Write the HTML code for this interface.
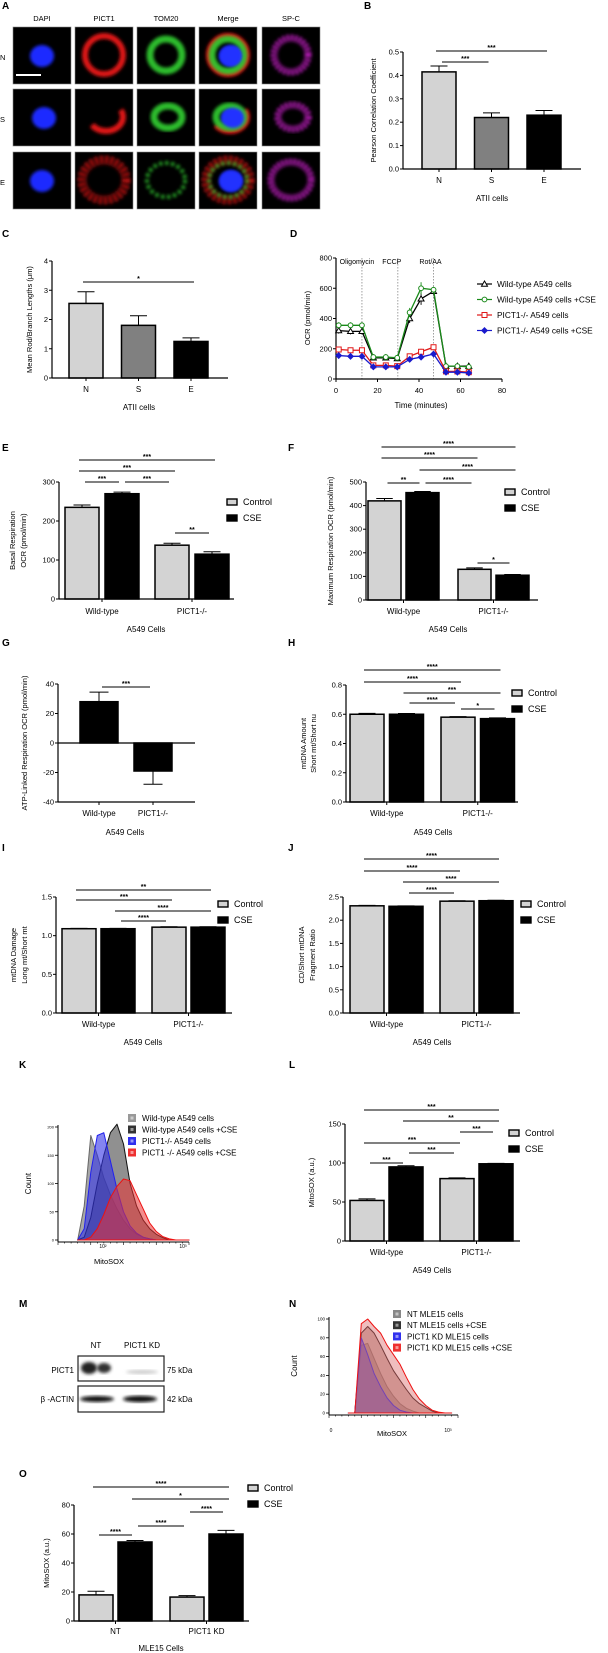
<!DOCTYPE html>
<html><head><meta charset="utf-8"><style>
html,body{margin:0;padding:0;background:#fff;}
svg{display:block;font-family:"Liberation Sans",Arial,sans-serif;}
</style></head><body>
<svg id="fig" width="608" height="1653" viewBox="0 0 608 1653" xmlns="http://www.w3.org/2000/svg">
<defs>
<filter id="blur1" x="-20%" y="-20%" width="140%" height="140%"><feGaussianBlur stdDeviation="1.6"/></filter>
<filter id="blur2" x="-20%" y="-20%" width="140%" height="140%"><feGaussianBlur stdDeviation="2.5"/></filter>
</defs>
</svg>
<script>
// ---------- DATA ----------
const bCats = ['N','S','E'];
const bVals = [0.415,0.22,0.23];
const bErr = [0.025,0.02,0.02];
const bTicks = [0,0.1,0.2,0.3,0.4,0.5];
const bTickLabels = ['0.0','0.1','0.2','0.3','0.4','0.5'];
const cVals = [2.55,1.8,1.25];
const cErr = [0.4,0.33,0.12];
const cTicks = [0,1,2,3,4];
const dTime = [1.3,7,12.5,18,24,29.5,35.5,41,47,53,58.5,64];
const dWT = [320,315,315,140,140,135,400,530,580,85,85,85];
const dWTErr = [20,20,20,10,10,10,30,40,20,5,5,5];
const dWTCSE = [355,355,355,145,145,140,440,600,590,85,85,80];
const dKO = [195,190,190,90,90,85,150,180,210,50,50,45];
const dKOCSE = [155,150,150,80,80,80,130,145,165,45,45,40];
const dXTicks = [0,20,40,60,80];
const dYTicks = [0,200,400,600,800];
const dInject = [12.5,29.8,47];
const a549Groups = ['Wild-type','PICT1-/-'];
const eVals = [235,270,138,115];
const eErr = [6,4,5,6];
const eTicks = [0,100,200,300];
const fVals = [420,455,130,105];
const fErr = [10,5,6,3];
const fTicks = [0,100,200,300,400,500];
const gVals = [28,-19];
const gErr = [6.5,9];
const gTicks = [-40,-20,0,20,40];
const hVals = [0.60,0.60,0.58,0.57];
const hErr = [0.006,0.005,0.004,0.005];
const hTicks = [0,0.2,0.4,0.6,0.8];
const hTickLabels = ['0.0','0.2','0.4','0.6','0.8'];
const iVals = [1.09,1.09,1.11,1.11];
const iErr = [0.005,0.005,0.005,0.005];
const iTicks = [0,0.5,1,1.5];
const iTickLabels = ['0.0','0.5','1.0','1.5'];
const jVals = [2.31,2.30,2.41,2.42];
const jErr = [0.01,0.01,0.01,0.01];
const jTicks = [0,0.5,1,1.5,2,2.5];
const jTickLabels = ['0.0','0.5','1.0','1.5','2.0','2.5'];
const lVals = [52,95,80,99];
const lErr = [2,1.5,1,0.5];
const lTicks = [0,50,100,150];
const oVals = [18,54.5,16.5,60];
const oErr = [2.5,1,1,2.5];
const oTicks = [0,20,40,60,80];
const kBins = [0.15,0.2,0.25,0.3,0.35,0.4,0.45,0.5,0.55,0.6,0.65,0.7,0.75,0.8,0.85,0.9,0.95,1.0];
const kWT = [0,60,185,150,110,80,55,35,20,10,5,2,0,0,0,0,0,0];
const kWTCSE = [0,5,40,100,150,190,205,170,100,60,35,20,10,4,0,0,0,0];
const kKO = [0,20,120,185,190,140,90,50,25,12,5,2,0,0,0,0,0,0];
const kKOCSE = [0,0,5,20,45,75,95,108,105,80,55,30,15,6,2,0,0,0];
const nBins = [0.15,0.2,0.25,0.3,0.35,0.4,0.45,0.5,0.55,0.6,0.65,0.7,0.75,0.8,0.85,0.9,0.95];
const nNT = [0,0,72,74,58,42,28,18,10,5,2,0,0,0,0,0,0];
const nNTCSE = [0,0,85,92,85,72,58,45,35,25,16,10,6,2,0,0,0];
const nKD = [0,0,80,62,42,28,16,8,3,1,0,0,0,0,0,0,0];
const nKDCSE = [0,0,95,100,92,85,72,62,52,38,25,15,8,3,1,0,0];

// ---------- HELPERS ----------
const NS = 'http://www.w3.org/2000/svg';
const svg = document.getElementById('fig');
function mk(tag, attrs, parent) {
  const e = document.createElementNS(NS, tag);
  for (const k in attrs) e.setAttribute(k, attrs[k]);
  (parent || svg).appendChild(e);
  return e;
}
function txt(s, x, y, size, anchor, parent, extra) {
  const t = mk('text', Object.assign({x: x, y: y, 'font-size': size, 'text-anchor': anchor || 'middle', fill: '#000'}, extra || {}), parent);
  t.textContent = s;
  return t;
}
function panelLabel(s, x, y) {
  const t = txt(s, x, y, 10, 'start', svg, {'font-weight': 'bold'});
  
  
}

// generic bar chart
function barChart(name, c) {
  const g = mk('g', {});
  
  
  const sy = v => c.y0 + (v - c.min) / (c.max - c.min) * (c.yTop - c.y0);
  const base = sy(Math.max(c.min, 0));
  const gs = c.gs || 2;
  const bx = i => c.x0 + c.pad + Math.floor(i / gs) * c.gstep + (i % gs) * c.step;
  const cx = i => bx(i) + c.w / 2;
  // bars
  c.vals.forEach((v, i) => {
    const top = Math.min(sy(v), base), h = Math.abs(sy(v) - base);
    const e = c.errs[i];
    const ey = v >= 0 ? sy(v + e) : sy(v - e);
    const el = mk('line', {x1: cx(i), x2: cx(i), y1: sy(v), y2: ey, stroke: '#000', 'stroke-width': 1}, g);
    
    
    const cap = mk('line', {x1: cx(i) - c.w / 4, x2: cx(i) + c.w / 4, y1: ey, y2: ey, stroke: '#000', 'stroke-width': 1}, g);
    
    
    const r = mk('rect', {x: bx(i), y: top, width: c.w, height: h, fill: c.fills[i % c.fills.length], stroke: '#000', 'stroke-width': 1.5}, g);
    
    
  });
  // axes
  const ya = mk('line', {x1: c.x0, x2: c.x0, y1: c.yTop, y2: c.y0, stroke: '#000', 'stroke-width': 1.2}, g);
  
  
  const xa = mk('line', {x1: c.x0, x2: c.xEnd, y1: c.y0, y2: c.y0, stroke: '#000', 'stroke-width': 1.2}, g);
  
  
  if (c.min < 0) {
    const zl = mk('line', {x1: c.x0, x2: c.xEnd, y1: base, y2: base, stroke: '#000', 'stroke-width': 1.2}, g);
    
    
  }
  c.ticks.forEach((t, k) => {
    mk('line', {x1: c.x0 - 3, x2: c.x0, y1: sy(t), y2: sy(t), stroke: '#000', 'stroke-width': 1}, g);
    const tl = txt(c.tickLabels ? c.tickLabels[k] : String(t), c.x0 - 4, sy(t) + 2.5, 7.5, 'end', g);
    
    
  });
  const ng = Math.ceil(c.vals.length / gs);
  for (let k = 0; k < ng; k++) {
    const gc = (bx(k * gs) + bx(k * gs + gs - 1) + c.w) / 2;
    mk('line', {x1: gc, x2: gc, y1: c.y0, y2: c.y0 + 3, stroke: '#000', 'stroke-width': 1}, g);
    const gl = txt(c.groups[k], gc, c.labY, 8, 'middle', g);
    
    
  }
  const xt = txt(c.xTitle, c.titleX, c.titleY, 8, 'middle', g);
  
  
  const ym = (c.yTop + c.y0) / 2;
  c.yTitle.forEach((s, k) => {
    const yt = txt(s, c.yTitleX[k], ym, 7.5, 'middle', g, {transform: 'rotate(-90 ' + c.yTitleX[k] + ' ' + ym + ')'});
    
    
  });
  // significance brackets
  (c.sigs || []).forEach(s => {
    const x1 = cx(s[0]) - 3, x2 = cx(s[1]) + 3;
    const sl = mk('line', {x1: x1 + (s[0] + 1 === s[1] ? 6 : 0), x2: x2 - (s[0] + 1 === s[1] ? 6 : 0), y1: s[2], y2: s[2], stroke: '#000', 'stroke-width': 1}, g);
    
    
    const st = txt(s[3], (x1 + x2) / 2, s[2] - 0.8, 7, 'middle', g, {'font-weight': 'bold'});
    
    
  });
  if (c.legend) {
    const lab = ['Control', 'CSE'], fl = ['#d3d3d3', '#000'];
    lab.forEach((s, k) => {
      const ly = c.legend[1] + k * 16;
      const lr = mk('rect', {x: c.legend[0], y: ly - 3, width: 10, height: 6, fill: fl[k], stroke: '#000', 'stroke-width': 1.4}, g);
      
      
      const lt = txt(s, c.legend[0] + 16, ly + 3, 9, 'start', g);
      
      
    });
  }
}

// ---------- PANEL A (microscopy) ----------
panelLabel('A', 2, 9); panelLabel('B', 364, 9); panelLabel('C', 2, 237); panelLabel('D', 290, 237);
panelLabel('E', 2, 451); panelLabel('F', 288, 451); panelLabel('G', 2, 646); panelLabel('H', 288, 646);
panelLabel('I', 2, 851); panelLabel('J', 288, 851); panelLabel('K', 19, 1068); panelLabel('L', 289, 1068);
panelLabel('M', 19, 1307); panelLabel('N', 289, 1307); panelLabel('O', 19, 1477);
const colX = [13, 75, 137, 199, 262];
const rowY = [27, 89, 152];
const colNames = ['DAPI', 'PICT1', 'TOM20', 'Merge', 'SP-C'];
const rowNames = ['N', 'S', 'E'];
const ga = mk('g', {});


colNames.forEach((s, k) => { const t = txt(s, colX[k] + 29, 21, 7.5, 'middle', ga);   });
rowNames.forEach((s, r) => { const t = txt(s, 0, rowY[r] + 33, 7.5, 'start', ga);   });
const ringR = [[19, 19], [17, 14], [22, 20]];
rowY.forEach((y, r) => {
  colX.forEach((x, k) => {
    const im = mk('rect', {x: x, y: y, width: 58, height: 57, fill: '#000', stroke: '#888', 'stroke-width': 0.6}, ga);
    
    
    const cxp = x + 29 + (r === 1 ? 2 : 0), cyp = y + 28;
    const rr = ringR[r];
    if (k === 0 || k === 3) mk('ellipse', {cx: cxp + (k === 3 ? 3 : 0), cy: cyp + 1, rx: 12, ry: 11, fill: '#1a2cff', filter: 'url(#blur1)'}, ga);
    if (k === 1 || k === 3) mk('ellipse', {cx: cxp, cy: cyp, rx: rr[0], ry: rr[1], fill: 'none', stroke: '#e01818', 'stroke-width': r === 2 ? 9 : 6, 'stroke-dasharray': r === 2 ? '3 2' : (r === 1 ? '40 50' : 'none'), filter: 'url(#blur1)', opacity: r === 2 ? 0.8 : 1}, ga);
    if (k === 2 || k === 3) mk('ellipse', {cx: cxp, cy: cyp, rx: rr[0] - 3, ry: rr[1] - 3, fill: 'none', stroke: '#30d030', 'stroke-width': r === 2 ? 4 : 7, 'stroke-dasharray': r === 2 ? '3 3' : 'none', filter: 'url(#blur1)', opacity: 0.9}, ga);
    if (k === 3) mk('ellipse', {cx: cxp + 3, cy: cyp + 1, rx: 11, ry: 10, fill: '#2030ff', filter: 'url(#blur1)'}, ga);
    if (k === 4) mk('ellipse', {cx: cxp, cy: cyp, rx: rr[0] - 2, ry: rr[1] - 2, fill: 'none', stroke: '#e020e0', 'stroke-width': 7, 'stroke-dasharray': '2 2', filter: 'url(#blur1)'}, ga);
  });
});
const sb = mk('line', {x1: 16, x2: 41, y1: 75, y2: 75, stroke: '#fff', 'stroke-width': 2}, ga);



// ---------- BAR CHARTS ----------
const twoFill = ['#d3d3d3', '#000'];
barChart('chart-b-pearson', {x0: 403, xEnd: 581, yTop: 52, y0: 169, min: 0, max: 0.5, ticks: bTicks, tickLabels: bTickLabels, vals: bVals, errs: bErr, fills: ['#d3d3d3', '#808080', '#000'], gs: 1, pad: 19, w: 34, step: 0, gstep: 52.5, groups: bCats, labY: 183, xTitle: 'ATII cells', titleX: 492, titleY: 201, yTitle: ['Pearson Correlation Coefficient'], yTitleX: [376], sigs: [[0, 2, 51, '***'], [0, 1, 62, '***']]});
barChart('chart-c-rod-length', {x0: 52, xEnd: 228, yTop: 261, y0: 378, min: 0, max: 4, ticks: cTicks, vals: cVals, errs: cErr, fills: ['#d3d3d3', '#808080', '#000'], gs: 1, pad: 17, w: 34, step: 0, gstep: 52.5, groups: bCats, labY: 392, xTitle: 'ATII cells', titleX: 139, titleY: 410, yTitle: ['Mean Rod/Branch Lengths (μm)'], yTitleX: [32], sigs: [[0, 2, 282, '*']]});
barChart('chart-e-basal', {x0: 59, xEnd: 234, yTop: 482, y0: 599, min: 0, max: 300, ticks: eTicks, vals: eVals, errs: eErr, fills: twoFill, pad: 6, w: 34, step: 40, gstep: 90, groups: a549Groups, labY: 614, xTitle: 'A549 Cells', titleX: 146, titleY: 632, yTitle: ['Basal Respiration', 'OCR (pmol/min)'], yTitleX: [15, 26], legend: [227, 502], sigs: [[0, 3, 460, '***'], [0, 2, 471, '***'], [0, 1, 482, '***'], [1, 2, 482, '***'], [2, 3, 533, '**']]});
barChart('chart-f-maximum', {x0: 366, xEnd: 538, yTop: 482, y0: 600, min: 0, max: 500, ticks: fTicks, vals: fVals, errs: fErr, fills: twoFill, pad: 2, w: 33, step: 38, gstep: 90, groups: a549Groups, labY: 614, xTitle: 'A549 Cells', titleX: 448, titleY: 632, yTitle: ['Maximum Respiration OCR (pmol/min)'], yTitleX: [333], legend: [505, 492], sigs: [[0, 3, 447, '****'], [0, 2, 458, '****'], [1, 3, 470, '****'], [1, 2, 483, '****'], [0, 1, 483, '**'], [2, 3, 563, '*']]});
barChart('chart-g-atp', {x0: 58, xEnd: 195, yTop: 684, y0: 802, min: -40, max: 40, ticks: gTicks, vals: gVals, errs: gErr, fills: ['#000'], gs: 1, pad: 22, w: 38, step: 0, gstep: 54, groups: a549Groups, labY: 816, xTitle: 'A549 Cells', titleX: 125, titleY: 835, yTitle: ['ATP-Linked Respiration OCR (pmol/min)'], yTitleX: [27], sigs: [[0, 1, 687, '***']]});
barChart('chart-h-mtdna-amount', {x0: 346, xEnd: 518, yTop: 685, y0: 802, min: 0, max: 0.8, ticks: hTicks, tickLabels: hTickLabels, vals: hVals, errs: hErr, fills: twoFill, pad: 4, w: 34, step: 39.5, gstep: 91, groups: a549Groups, labY: 816, xTitle: 'A549 Cells', titleX: 433, titleY: 835, yTitle: ['mtDNA Amount', 'Short mt/Short nu'], yTitleX: [306, 316], legend: [512, 693], sigs: [[0, 3, 670, '****'], [0, 2, 682, '****'], [1, 3, 693, '***'], [1, 2, 703, '****'], [2, 3, 709, '*']]});
barChart('chart-i-mtdna-damage', {x0: 56, xEnd: 232, yTop: 897, y0: 1013, min: 0, max: 1.5, ticks: iTicks, tickLabels: iTickLabels, vals: iVals, errs: iErr, fills: twoFill, pad: 6, w: 34, step: 39, gstep: 90, groups: a549Groups, labY: 1027, xTitle: 'A549 Cells', titleX: 143, titleY: 1045, yTitle: ['mtDNA Damage', 'Long mt/Short mt'], yTitleX: [16, 27], legend: [218, 904], sigs: [[0, 3, 890, '**'], [0, 2, 900, '***'], [1, 3, 911, '****'], [1, 2, 921, '****']]});
barChart('chart-j-fragment-ratio', {x0: 343, xEnd: 520, yTop: 897, y0: 1013, min: 0, max: 2.5, ticks: jTicks, tickLabels: jTickLabels, vals: jVals, errs: jErr, fills: twoFill, pad: 7, w: 34, step: 39, gstep: 90, groups: a549Groups, labY: 1027, xTitle: 'A549 Cells', titleX: 432, titleY: 1045, yTitle: ['CD/Short mtDNA', 'Fragment Ratio'], yTitleX: [304, 315], legend: [521, 904], sigs: [[0, 3, 859, '****'], [0, 2, 871, '****'], [1, 3, 882, '****'], [1, 2, 893, '****']]});
barChart('chart-l-mitosox', {x0: 345, xEnd: 520, yTop: 1124, y0: 1241, min: 0, max: 150, ticks: lTicks, vals: lVals, errs: lErr, fills: twoFill, pad: 5, w: 34, step: 39, gstep: 90, groups: a549Groups, labY: 1255, xTitle: 'A549 Cells', titleX: 432, titleY: 1273, yTitle: ['MitoSOX (a.u.)'], yTitleX: [314], legend: [509, 1133], sigs: [[0, 3, 1110, '***'], [1, 3, 1121, '**'], [2, 3, 1132, '***'], [0, 2, 1143, '***'], [1, 2, 1153, '***'], [0, 1, 1163, '***']]});
barChart('chart-o-mitosox-mle15', {x0: 74, xEnd: 249, yTop: 1505, y0: 1621, min: 0, max: 80, ticks: oTicks, vals: oVals, errs: oErr, fills: twoFill, pad: 5, w: 34, step: 39, gstep: 91, groups: ['NT', 'PICT1 KD'], labY: 1634, xTitle: 'MLE15 Cells', titleX: 161, titleY: 1651, yTitle: ['MitoSOX (a.u.)'], yTitleX: [49], legend: [248, 1488], sigs: [[0, 3, 1487, '****'], [1, 3, 1499, '*'], [2, 3, 1512, '****'], [1, 2, 1526, '****'], [0, 1, 1535, '****']]});

// ---------- PANEL D (OCR line chart) ----------
(function () {
  const g = mk('g', {});
  
  
  const X0 = 336, X1 = 502, Y0 = 379, Y1 = 258;
  const sx = t => X0 + t / 80 * (X1 - X0);
  const sy = v => Y0 + v / 800 * (Y1 - Y0);
  dInject.forEach((t, k) => {
    const l = mk('line', {x1: sx(t), x2: sx(t), y1: Y1, y2: Y0, stroke: '#888', 'stroke-width': 0.8, 'stroke-dasharray': '1.5 1.5'}, g);
    
    
    const at = txt(['Oligomycin', 'FCCP', 'Rot/AA'][k], sx(t) + [-5, -6, -3][k], 264, 7, 'middle', g);
    
    
  });
  const ya = mk('line', {x1: X0, x2: X0, y1: Y1, y2: Y0, stroke: '#000', 'stroke-width': 1.2}, g);
  
  
  const xa = mk('line', {x1: X0, x2: X1, y1: Y0, y2: Y0, stroke: '#000', 'stroke-width': 1.2}, g);
  
  
  dYTicks.forEach(v => {
    mk('line', {x1: X0 - 3, x2: X0, y1: sy(v), y2: sy(v), stroke: '#000'}, g);
    const t = txt(String(v), X0 - 4, sy(v) + 2.5, 7.5, 'end', g);
    
    
  });
  dXTicks.forEach(v => {
    mk('line', {x1: sx(v), x2: sx(v), y1: Y0, y2: Y0 + 3, stroke: '#000'}, g);
    const t = txt(String(v), sx(v), 393, 7.5, 'middle', g);
    
    
  });
  const xt = txt('Time (minutes)', 421, 408, 8, 'middle', g);
  
  
  const yt = txt('OCR (pmol/min)', 310, 318, 7.5, 'middle', g, {transform: 'rotate(-90 310 318)'});
  
  
  const series = [[dWT, '#000', 'tri', 'Wild-type A549 cells'], [dWTCSE, '#1a8a1a', 'circ', 'Wild-type A549 cells +CSE'], [dKO, '#e01818', 'sq', 'PICT1-/- A549 cells'], [dKOCSE, '#1a1acc', 'dia', 'PICT1-/- A549 cells +CSE']];
  function marker(shape, x, y, col, parent) {
    let m;
    if (shape === 'tri') m = mk('polygon', {points: (x) + ',' + (y - 3) + ' ' + (x - 3) + ',' + (y + 2.2) + ' ' + (x + 3) + ',' + (y + 2.2), fill: '#fff', stroke: col, 'stroke-width': 1}, parent);
    else if (shape === 'circ') m = mk('circle', {cx: x, cy: y, r: 2.4, fill: '#fff', stroke: col, 'stroke-width': 1}, parent);
    else if (shape === 'sq') m = mk('rect', {x: x - 2.5, y: y - 2.5, width: 5, height: 5, fill: '#fff', stroke: col, 'stroke-width': 1}, parent);
    else m = mk('polygon', {points: x + ',' + (y - 2.8) + ' ' + (x + 2.8) + ',' + y + ' ' + x + ',' + (y + 2.8) + ' ' + (x - 2.8) + ',' + y, fill: col, stroke: col}, parent);
    return m;
  }
  series.forEach((s, k) => {
    const vals = s[0];
    dTime.forEach((t, i) => {
      const e = dWTErr[i] * (k < 2 ? 1 : 0.5);
      mk('line', {x1: sx(t), x2: sx(t), y1: sy(vals[i] - e), y2: sy(vals[i] + e), stroke: s[1], 'stroke-width': 0.9}, g);
    });
    const pl = mk('polyline', {points: dTime.map((t, i) => sx(t) + ',' + sy(vals[i])).join(' '), fill: 'none', stroke: s[1], 'stroke-width': 1.3}, g);
    
    
    dTime.forEach((t, i) => {
      const m = marker(s[2], sx(t), sy(vals[i]), s[1], g);
      
      
    });
    const ly = 284 + k * 15.5;
    mk('line', {x1: 477, x2: 492, y1: ly, y2: ly, stroke: s[1], 'stroke-width': 1.2}, g);
    const lm = marker(s[2], 484.5, ly, s[1], g);
    
    
    const lt = txt(s[3], 497, ly + 3, 8.3, 'start', g);
    
    
  });
})();

// ---------- HISTOGRAMS ----------
function histogram(name, c) {
  const g = mk('g', {});
  
  
  const sx = v => c.x0 + v * (c.x1 - c.x0);
  const sy = v => c.y0 + v / c.max * (c.yTop - c.y0);
  c.series.forEach(s => {
    const pts = c.bins.map((b, i) => [sx(b), sy(s.vals[i])]);
    let d = 'M' + pts[0][0] + ',' + c.y0;
    pts.forEach(p => { d += ' L' + p[0].toFixed(1) + ',' + p[1].toFixed(1); });
    d += ' L' + pts[pts.length - 1][0] + ',' + c.y0 + ' Z';
    const p = mk('path', {d: d, fill: s.fill, stroke: s.stroke, 'stroke-width': 1, 'stroke-linejoin': 'round'}, g);
    
    
  });
  const ya = mk('line', {x1: c.x0, x2: c.x0, y1: c.yTop - 2, y2: c.y0 + 2, stroke: '#000', 'stroke-width': 1}, g);
  
  
  const xa = mk('line', {x1: c.x0, x2: c.x1, y1: c.y0 + 2, y2: c.y0 + 2, stroke: '#000', 'stroke-width': 1}, g);
  
  
  c.ticks.forEach(t => {
    mk('line', {x1: c.x0 - 3, x2: c.x0, y1: sy(t), y2: sy(t), stroke: '#000', 'stroke-width': 0.8}, g);
    const tl = txt(String(t), c.x0 - 4, sy(t) + 1.5, c.tickSize, 'end', g);
    
    
  });
  for (let k = 0; k <= 20; k++) mk('line', {x1: sx(k / 20), x2: sx(k / 20), y1: c.y0 + 2, y2: c.y0 + (k % 5 === 0 ? 5 : 3.5), stroke: '#000', 'stroke-width': 0.6}, g);
  c.legend.forEach((s, k) => {
    const ly = c.ly + k * c.ldy;
    const r = mk('rect', {x: c.lx, y: ly - 4, width: 8, height: 8, fill: s[1]}, g);
    
    
    mk('rect', {x: c.lx + 2.5, y: ly - 1.5, width: 3, height: 3, fill: 'rgba(255,255,255,0.5)'}, g);
    const t = txt(s[0], c.lx + 14, ly + 3, 8, 'start', g);
    
    
  });
  const ct = txt('Count', c.countX, (c.yTop + c.y0) / 2, 8, 'middle', g, {transform: 'rotate(-90 ' + c.countX + ' ' + ((c.yTop + c.y0) / 2) + ')'});
  
  
  const xt = txt('MitoSOX', c.mx, c.my, 7.5, 'middle', g);
  
  
  c.xlabels.forEach(l => { const t = txt(l[0], l[1], l[2], 5, 'middle', g);   });
}
histogram('chart-k-flow', {x0: 58, x1: 189, yTop: 1127, y0: 1240, max: 200, ticks: [0, 50, 100, 150, 200], tickSize: 4, bins: kBins,
  series: [
    {id: 'wt', vals: kWT, fill: 'rgba(120,120,120,0.65)', stroke: '#666'},
    {id: 'wt-cse', vals: kWTCSE, fill: 'rgba(70,70,70,0.6)', stroke: '#111'},
    {id: 'ko', vals: kKO, fill: 'rgba(50,50,230,0.6)', stroke: '#2020ee'},
    {id: 'ko-cse', vals: kKOCSE, fill: 'rgba(235,50,50,0.55)', stroke: '#ee1111'}],
  legend: [['Wild-type A549 cells', '#999'], ['Wild-type A549 cells +CSE', '#333'], ['PICT1-/- A549 cells', '#3030ee'], ['PICT1 -/- A549 cells +CSE', '#ee3030']],
  lx: 128, ly: 1118, ldy: 11.5, countX: 31, mx: 109, my: 1264, xlabels: [['10²', 103, 1248], ['10³', 183, 1248]]});
histogram('chart-n-flow', {x0: 329, x1: 458, yTop: 1319, y0: 1413, max: 100, ticks: [0, 20, 40, 60, 80, 100], tickSize: 4.5, bins: nBins,
  series: [
    {id: 'nt', vals: nNT, fill: 'rgba(120,120,120,0.5)', stroke: '#777'},
    {id: 'nt-cse', vals: nNTCSE, fill: 'rgba(150,100,90,0.5)', stroke: '#221111'},
    {id: 'kd', vals: nKD, fill: 'rgba(80,60,200,0.55)', stroke: '#2020ee'},
    {id: 'kd-cse', vals: nKDCSE, fill: 'rgba(220,110,110,0.45)', stroke: '#ee1111'}],
  legend: [['NT MLE15 cells', '#888'], ['NT MLE15 cells +CSE', '#333'], ['PICT1 KD MLE15 cells', '#3030ee'], ['PICT1 KD MLE15 cells +CSE', '#ee3030']],
  lx: 393, ly: 1314, ldy: 11.2, countX: 297, mx: 392, my: 1436, xlabels: [['0', 331, 1432], ['10³', 448, 1432]]});

// ---------- PANEL M (western blot) ----------
(function () {
  const g = mk('g', {});
  
  
  txt('NT', 96, 1348, 8, 'middle', g);
  txt('PICT1 KD', 142, 1348, 8, 'middle', g);
  const b1 = mk('rect', {x: 78, y: 1356, width: 86, height: 25, fill: '#fff', stroke: '#222', 'stroke-width': 1.2}, g);
  
  
  const b2 = mk('rect', {x: 78, y: 1386, width: 86, height: 26, fill: '#fff', stroke: '#222', 'stroke-width': 1.2}, g);
  
  
  mk('ellipse', {cx: 89, cy: 1368, rx: 8, ry: 6, fill: '#222', filter: 'url(#blur1)'}, g);
  mk('ellipse', {cx: 104, cy: 1368, rx: 7, ry: 5, fill: '#333', filter: 'url(#blur1)'}, g);
  mk('ellipse', {cx: 142, cy: 1372, rx: 16, ry: 2, fill: '#ccc', filter: 'url(#blur1)'}, g);
  mk('ellipse', {cx: 97, cy: 1399, rx: 17, ry: 3, fill: '#111', filter: 'url(#blur1)'}, g);
  mk('ellipse', {cx: 140, cy: 1399, rx: 17, ry: 3.2, fill: '#111', filter: 'url(#blur1)'}, g);
  txt('PICT1', 74, 1373, 8, 'end', g);
  txt('β -ACTIN', 74, 1402, 8, 'end', g);
  txt('75 kDa', 167, 1373, 8, 'start', g);
  txt('42 kDa', 167, 1402, 8, 'start', g);
})();
</script>
</body></html>
